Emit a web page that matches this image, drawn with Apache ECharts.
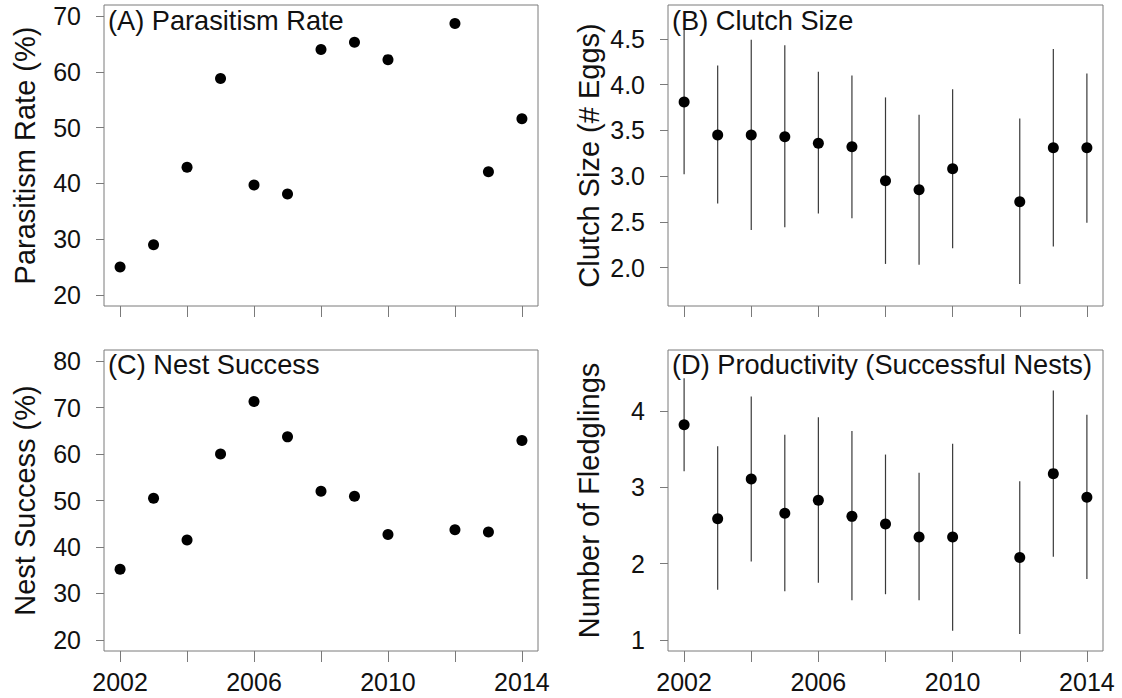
<!DOCTYPE html>
<html>
<head>
<meta charset="utf-8">
<title>Nesting metrics 2002–2014</title>
<script src="https://cdn.jsdelivr.net/npm/echarts@6/dist/echarts.min.js"></script>
<style>
  html, body { margin: 0; padding: 0; background: #ffffff; }
  #chart { width: 1122px; height: 698px; }
</style>
</head>
<body>
<div id="chart"></div>
<script>
// Survey years (no data collected in 2011)
const years = [2002, 2003, 2004, 2005, 2006, 2007, 2008, 2009, 2010, 2012, 2013, 2014];

// (A) Parasitism rate, %
const parasitismRate = [25.0, 29.0, 42.9, 58.8, 39.7, 38.1, 64.0, 65.3, 62.2, 68.7, 42.1, 51.6];

// (B) Clutch size, mean and interval bounds
const clutchMean = [3.81, 3.45, 3.45, 3.43, 3.36, 3.32, 2.95, 2.85, 3.08, 2.72, 3.31, 3.31];
const clutchLow  = [3.02, 2.70, 2.41, 2.44, 2.59, 2.54, 2.04, 2.03, 2.21, 1.82, 2.23, 2.49];
const clutchHigh = [4.60, 4.21, 4.49, 4.43, 4.14, 4.10, 3.86, 3.67, 3.95, 3.63, 4.39, 4.12];

// (C) Nest success, %
const nestSuccess = [35.2, 50.5, 41.5, 60.0, 71.3, 63.7, 52.0, 50.9, 42.7, 43.7, 43.2, 62.9];

// (D) Fledglings per successful nest, mean and interval bounds
const fledgeMean = [3.82, 2.59, 3.11, 2.66, 2.83, 2.62, 2.52, 2.35, 2.35, 2.08, 3.18, 2.87];
const fledgeLow  = [3.21, 1.66, 2.03, 1.64, 1.75, 1.52, 1.60, 1.52, 1.12, 1.08, 2.09, 1.80];
const fledgeHigh = [4.43, 3.54, 4.19, 3.69, 3.92, 3.74, 3.43, 3.19, 3.57, 3.08, 4.27, 3.95];

// Tick positions and labels
const xTicks = [2002, 2004, 2006, 2008, 2010, 2012, 2014];
const xTickLabels = [2002, 2006, 2010, 2014];
const yTicksA = [20, 30, 40, 50, 60, 70];
const yTicksB = [2.0, 2.5, 3.0, 3.5, 4.0, 4.5];
const yTicksC = [20, 30, 40, 50, 60, 70, 80];
const yTicksD = [1, 2, 3, 4];

const panelTitles = ['(A) Parasitism Rate', '(B) Clutch Size', '(C) Nest Success', '(D) Productivity (Successful Nests)'];
const axisTitles = ['Parasitism Rate (%)', 'Clutch Size (# Eggs)', 'Nest Success (%)', 'Number of Fledglings'];

const FONT = '"Liberation Sans", Arial, Helvetica, sans-serif';
const INK = '#111111';
const FRAME = '#7a7a7a';

const grids = [
  { left: 104, top: 5,   width: 434, height: 301 },
  { left: 668, top: 5,   width: 435, height: 301 },
  { left: 104, top: 350, width: 434, height: 301 },
  { left: 668, top: 350, width: 435, height: 301 }
].map(g => Object.assign({ show: true, borderColor: FRAME, borderWidth: 1, containLabel: false }, g));

function xAxisFor(gridIndex, withLabels) {
  return {
    type: 'value', gridIndex,
    min: 2001.52, max: 2014.48,
    axisLine: { show: false },
    splitLine: { show: false },
    axisTick: { show: true, inside: false, length: 11, customValues: xTicks,
                lineStyle: { color: FRAME, width: 1 } },
    axisLabel: { show: withLabels, customValues: xTickLabels, margin: 18,
                 fontSize: 25, fontFamily: FONT, color: INK,
                 formatter: v => String(Math.round(v)) }
  };
}

function yAxisFor(gridIndex, min, max, ticks, digits, name) {
  return {
    type: 'value', gridIndex, min, max,
    name, nameLocation: 'middle', nameGap: 65,
    nameTextStyle: { fontSize: 29, fontFamily: FONT, color: INK },
    axisLine: { show: false },
    splitLine: { show: false },
    axisTick: { show: true, inside: false, length: 8, customValues: ticks,
                lineStyle: { color: FRAME, width: 1 } },
    axisLabel: { customValues: ticks, margin: 23, fontSize: 25, fontFamily: FONT, color: INK,
                 formatter: v => Number(v).toFixed(digits) }
  };
}

function points(values, idx) {
  return {
    type: 'scatter', xAxisIndex: idx, yAxisIndex: idx,
    symbol: 'circle', symbolSize: 11,
    itemStyle: { color: '#000000', opacity: 1 },
    data: years.map((y, i) => [y, values[i]]),
    z: 3
  };
}

function intervals(low, high, idx) {
  return {
    type: 'custom', xAxisIndex: idx, yAxisIndex: idx,
    clip: true,
    encode: { x: 0, y: [1, 2] },
    data: years.map((y, i) => [y, low[i], high[i]]),
    renderItem: (params, api) => {
      const a = api.coord([api.value(0), api.value(1)]);
      const b = api.coord([api.value(0), api.value(2)]);
      return {
        type: 'line',
        shape: { x1: a[0], y1: a[1], x2: b[0], y2: b[1] },
        style: { stroke: '#3a3a3a', lineWidth: 1.2 }
      };
    },
    z: 2
  };
}

const titlePos = [[108, 7], [672, 7], [108, 351], [672, 351]];

const option = {
  animation: false,
  backgroundColor: '#ffffff',
  title: panelTitles.map((t, i) => ({
    text: t, left: titlePos[i][0], top: titlePos[i][1], padding: 0,
    textStyle: { fontSize: 27.2, fontWeight: 'normal', fontFamily: FONT, color: INK }
  })),
  grid: grids,
  xAxis: [xAxisFor(0, false), xAxisFor(1, false), xAxisFor(2, true), xAxisFor(3, true)],
  yAxis: [
    yAxisFor(0, 18, 72, yTicksA, 0, axisTitles[0]),
    yAxisFor(1, 1.58, 4.87, yTicksB, 1, axisTitles[1]),
    yAxisFor(2, 17.6, 82.4, yTicksC, 0, axisTitles[2]),
    yAxisFor(3, 0.856, 4.8, yTicksD, 0, axisTitles[3])
  ],
  series: [
    points(parasitismRate, 0),
    intervals(clutchLow, clutchHigh, 1),
    points(clutchMean, 1),
    points(nestSuccess, 2),
    intervals(fledgeLow, fledgeHigh, 3),
    points(fledgeMean, 3)
  ]
};

const chart = echarts.init(document.getElementById('chart'), null, { renderer: 'svg' });
chart.setOption(option);
</script>
</body>
</html>
